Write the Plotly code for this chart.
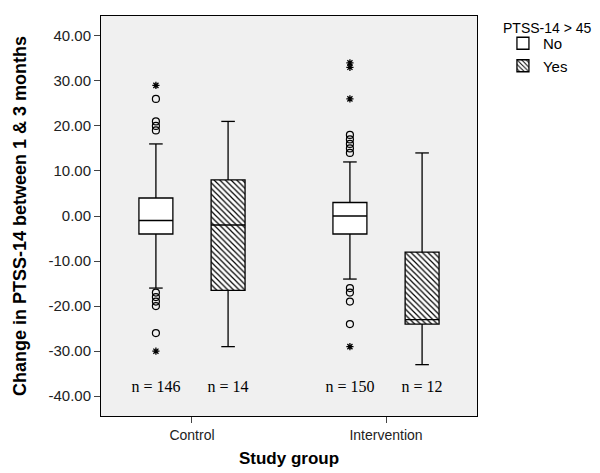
import plotly.graph_objects as go

groups = ["Control", "Intervention"]
status = ["No", "Yes"]
# per box: Control-No, Control-Yes, Intervention-No, Intervention-Yes
box_group = ["Control", "Control", "Intervention", "Intervention"]
box_status = ["No", "Yes", "No", "Yes"]
q1 = [-4, -16.5, -4, -24]
median = [-1, -2, 0, -23]
q3 = [4, 8, 3, -8]
lower = [-16, -29, -14, -33]
upper = [16, 21, 12, 14]
n_counts = [146, 14, 150, 12]

# outliers (circles) and extremes (stars) per box
circle_out = [[19, 20, 21, 26, -17, -18, -19, -20, -26], [], [14, 15, 16, 17, 18, -16, -17, -19, -24], []]
star_out = [[29, -30], [], [26, 33, 34, -29], []]

offset = {"No": -0.186, "Yes": 0.186}
gpos = {"Control": 0, "Intervention": 1}
bw = 0.175
cap = 0.035

fig = go.Figure()

# legend / box bodies
for st in status:
    xs, bases, hs = [], [], []
    for i in range(4):
        if box_status[i] == st:
            xs.append(gpos[box_group[i]] + offset[st])
            bases.append(q1[i])
            hs.append(q3[i] - q1[i])
    pattern = dict(shape="\\", fgcolor="black", bgcolor="white", size=4, solidity=0.3) if st == "Yes" else dict(shape="")
    fig.add_trace(go.Bar(x=xs, y=hs, base=bases, width=bw, name=st,
                         marker=dict(color="white", line=dict(color="black", width=1.3), pattern=pattern),
                         hoverinfo="skip"))

# whiskers + medians
for i in range(4):
    xc = gpos[box_group[i]] + offset[box_status[i]]
    lx, ly = [], []
    lx += [xc, xc, None, xc, xc, None]
    ly += [q3[i], upper[i], None, q1[i], lower[i], None]
    lx += [xc - cap, xc + cap, None, xc - cap, xc + cap, None]
    ly += [upper[i], upper[i], None, lower[i], lower[i], None]
    lx += [xc - bw / 2, xc + bw / 2, None]
    ly += [median[i], median[i], None]
    fig.add_trace(go.Scatter(x=lx, y=ly, mode="lines", line=dict(color="black", width=1.3),
                             showlegend=False, hoverinfo="skip"))
    if circle_out[i]:
        fig.add_trace(go.Scatter(x=[xc] * len(circle_out[i]), y=circle_out[i], mode="markers",
                                 marker=dict(symbol="circle-open", size=7, color="black", line=dict(width=1.2)),
                                 showlegend=False, hoverinfo="skip"))
    if star_out[i]:
        fig.add_trace(go.Scatter(x=[xc] * len(star_out[i]), y=star_out[i], mode="markers",
                                 marker=dict(symbol="asterisk-open", size=6, color="black", line=dict(width=1.3)),
                                 showlegend=False, hoverinfo="skip"))

# n labels
n_x = [gpos[box_group[i]] + offset[box_status[i]] for i in range(4)]
fig.add_trace(go.Scatter(x=n_x, y=[-38.2] * 4, mode="text", text=[f"n = {n}" for n in n_counts],
                         textfont=dict(family="Liberation Serif, Times New Roman, serif", size=16, color="black"),
                         showlegend=False, hoverinfo="skip"))

yticks = list(range(-40, 41, 10))
fig.update_layout(
    template="none",
    width=600, height=473,
    margin=dict(l=93, r=131, t=8, b=65, autoexpand=False),
    paper_bgcolor="white", plot_bgcolor="#f0f0f0",
    barmode="overlay",
    font=dict(family="Arial, Liberation Sans, sans-serif", color="black"),
    legend=dict(x=1.069, y=0.9725, xanchor="left", yanchor="top", font=dict(size=15),
                bgcolor="rgba(0,0,0,0)", tracegroupgap=0, itemwidth=30),
    annotations=[dict(text="PTSS-14 > 45", xref="paper", yref="paper", x=(493 - 93) / 376, y=1.0 - (20 - 8) / 400,
                      xanchor="left", yanchor="middle", showarrow=False, font=dict(size=14))],
    xaxis=dict(range=[-0.469, 1.469], tickvals=[0, 1], ticktext=groups, showgrid=False, zeroline=False,
               automargin=False,
               showline=True, linecolor="black", linewidth=1, mirror=True, ticks="outside", ticklen=6,
               tickfont=dict(size=14, color="#222"),
               title=dict(text="<b>Study group</b>", font=dict(size=17), standoff=10)),
    yaxis=dict(range=[-44.4, 44.4], tickvals=yticks, ticktext=[f"{v:.2f}" for v in yticks], showgrid=False,
               automargin=False,
               zeroline=False, showline=True, linecolor="black", linewidth=1, mirror=True, ticks="outside",
               ticklen=6, tickfont=dict(size=15, color="#222"),
               title=dict(text="<b>Change in PTSS-14 between 1 & 3 months</b>", font=dict(size=18), standoff=17)),
)

fig.write_html("out.html")
